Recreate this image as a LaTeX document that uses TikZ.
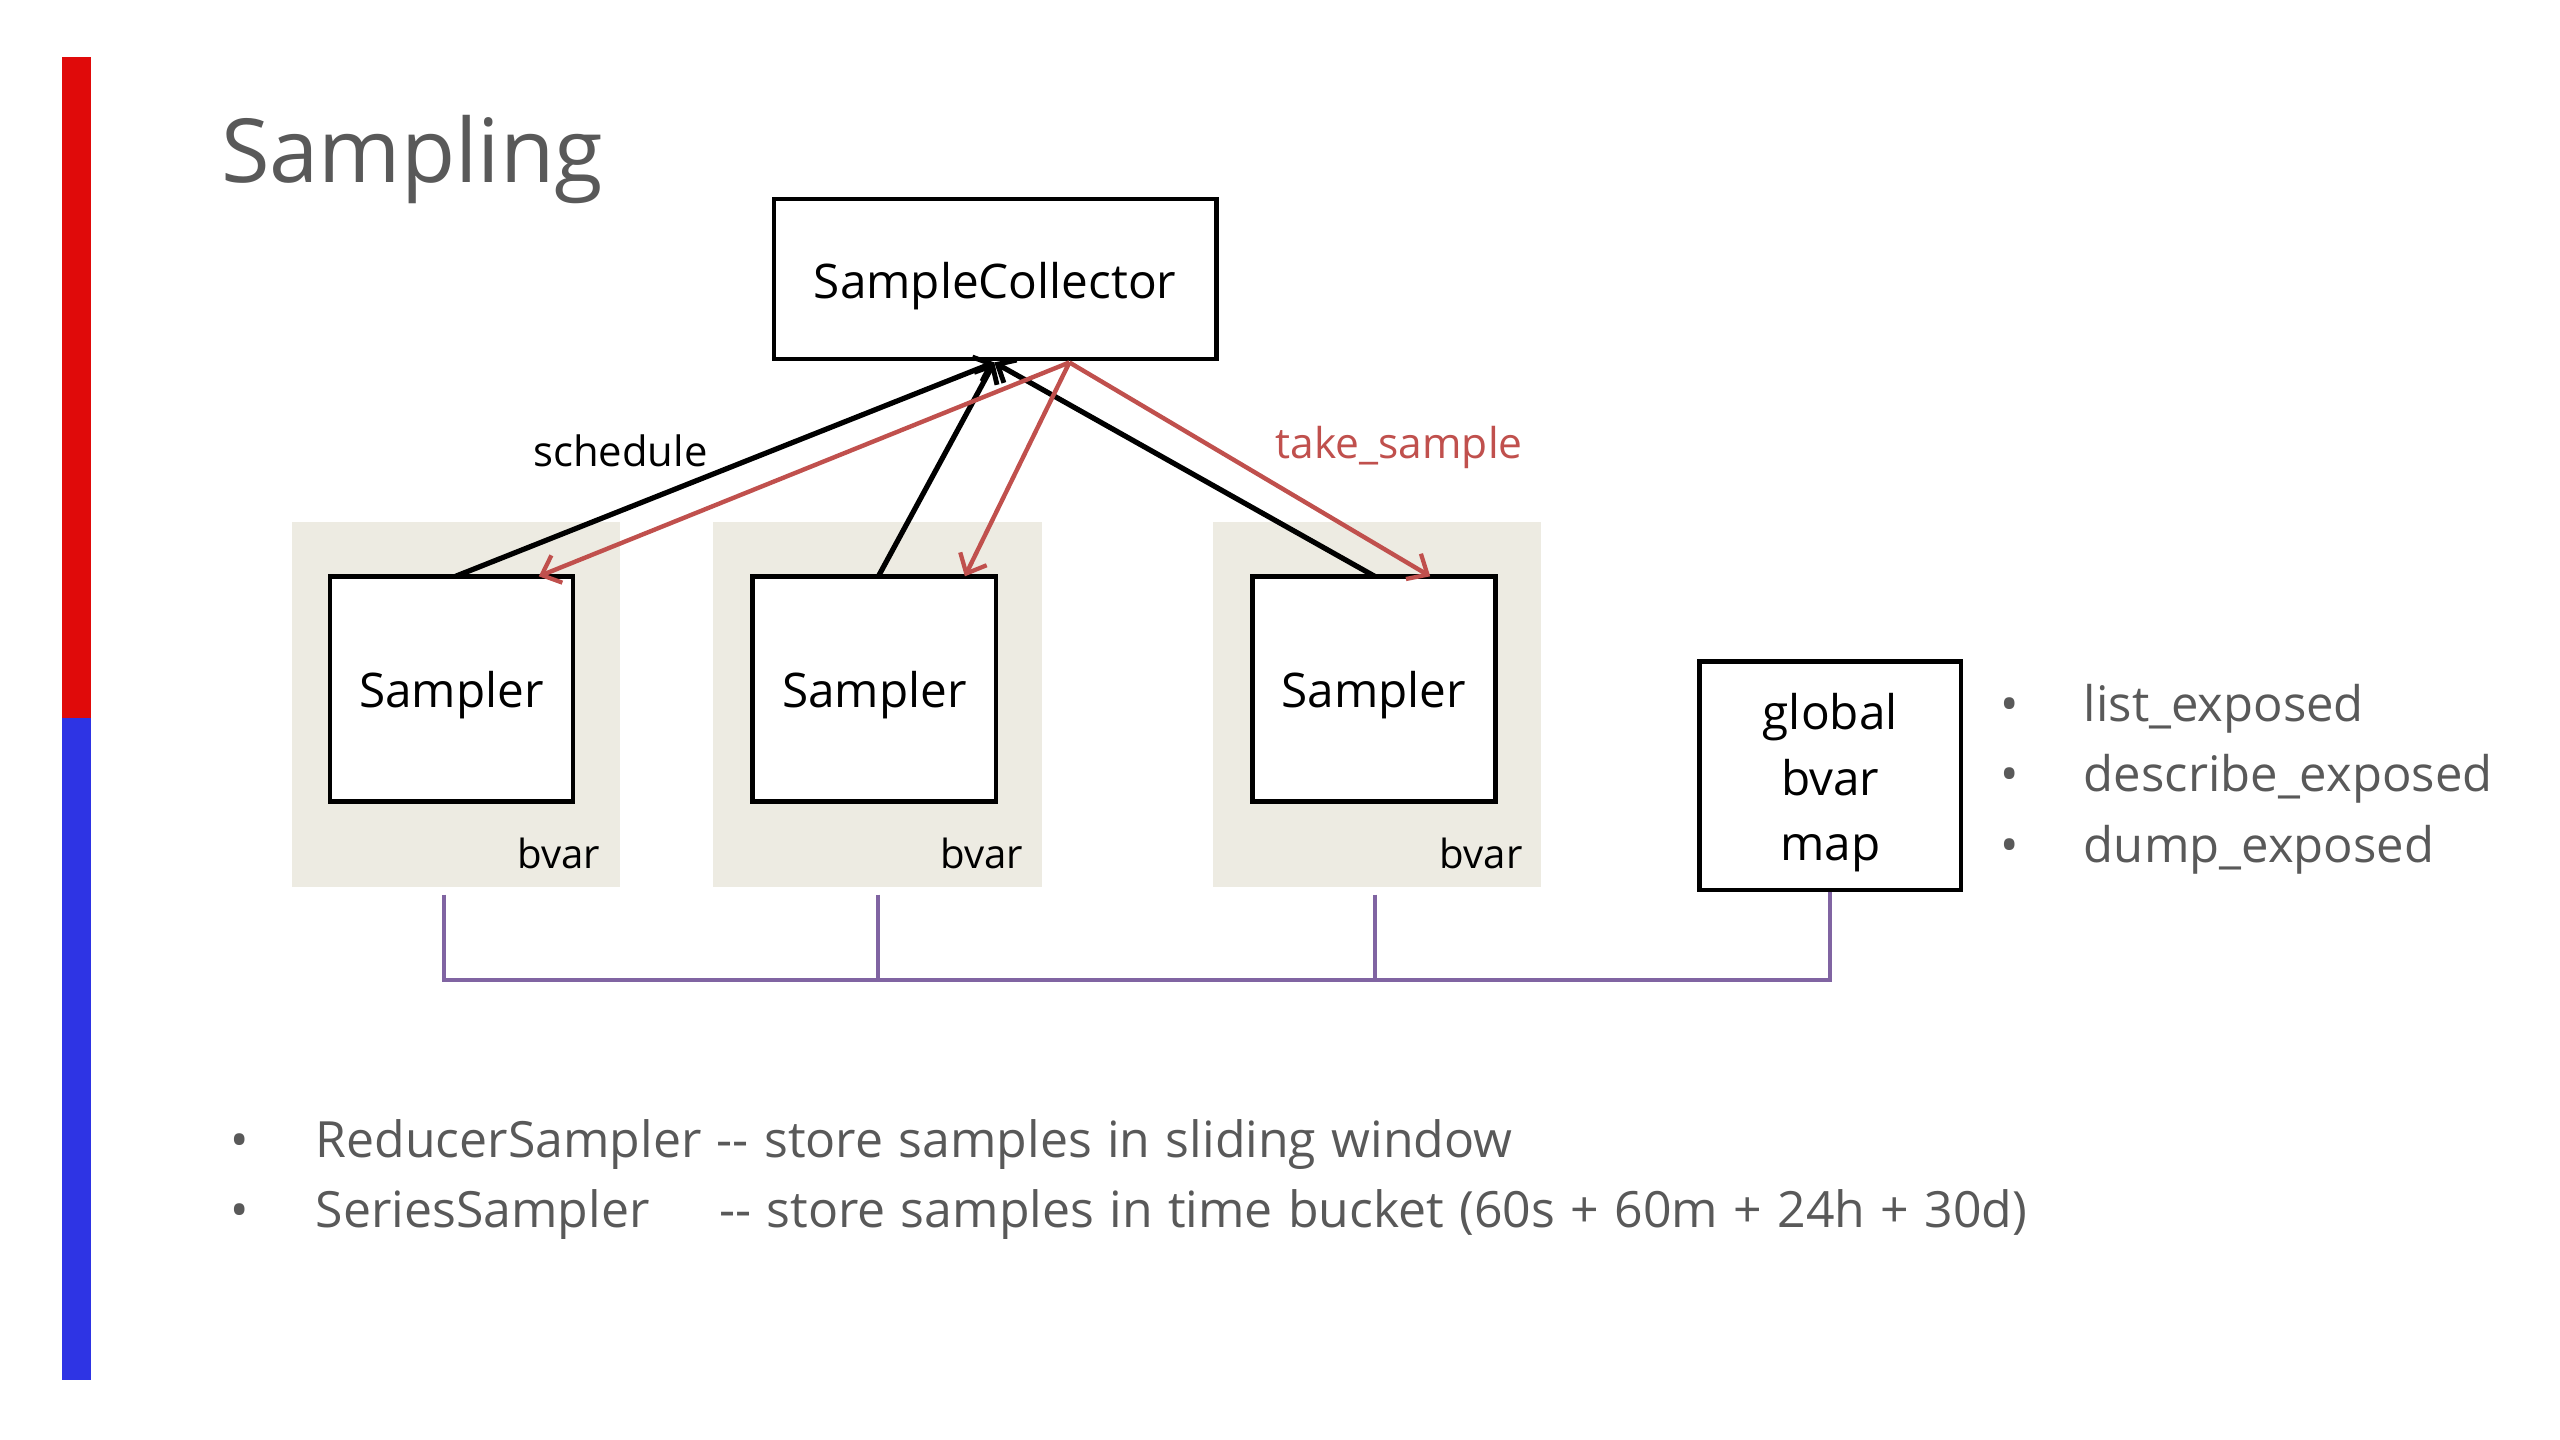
\documentclass[tikz,border=0pt]{standalone}
\usepackage{fontspec}
\setmainfont{Open Sans}
\usetikzlibrary{arrows.meta,calc}
\definecolor{txtgray}{HTML}{595959}
\definecolor{barred}{HTML}{E00A0A}
\definecolor{barblue}{HTML}{2E34E4}
\definecolor{bgtan}{HTML}{EDEBE2}
\definecolor{arrred}{HTML}{C0504D}
\definecolor{linepurple}{HTML}{8064A2}
\newcommand{\lowr}[1]{\raisebox{-2pt}[\height][\depth]{#1}}
\begin{document}
\begin{tikzpicture}[x=0.5pt,y=-0.5pt,
  box/.style={draw=black,line width=1.4pt,fill=white,inner sep=0pt,font=\fontsize{14.6}{17}\selectfont},
  samplerbox/.style={box,minimum width=74.5pt,minimum height=69pt},
  bgbox/.style={fill=bgtan,inner sep=0pt,minimum width=100.5pt,minimum height=111.5pt},
  bvarlbl/.style={anchor=base east,inner sep=0pt,font=\fontsize{12.3}{14}\selectfont},
  blackarr/.style={draw=black,line width=1.6pt,-{Straight Barb[length=4.5pt,width=8pt,line width=1.5pt]}},
  redarr/.style={draw=arrred,line width=1.35pt,-{Straight Barb[length=5pt,width=9pt,line width=1.3pt]}},
  purpleline/.style={draw=linepurple,line width=1.2pt},
  bullettxt/.style={anchor=base west,inner sep=0pt,text=txtgray,font={\fontsize{15.3}{18}\selectfont\spaceskip=4.7pt\relax}},
  listtxt/.style={anchor=base west,inner sep=0pt,text=txtgray,font=\fontsize{15}{18}\selectfont},
  bulletdot/.style={anchor=base,inner sep=0pt,text=txtgray,font=\fontsize{15}{18}\selectfont}
]
\useasboundingbox (0,0) rectangle (1568,881.4);
\fill[white] (0,0) rectangle (1568,881.4);
% side bars
\fill[barred] (38,35) rectangle (56,440);
\fill[barblue] (38,440) rectangle (56,845);
% title
\node[anchor=base west,inner sep=0pt,text=txtgray,font=\fontsize{27.1}{32}\selectfont] (title) at (135,112) {Sampling};
% background panels
\node[bgbox] (bg1) at (279.5,431.5) {};
\node[bgbox] (bg2) at (537.5,431.5) {};
\node[bgbox] (bg3) at (843.5,431.5) {};
% boxes
\node[box,minimum width=135.5pt,minimum height=49pt] (sc) at (609.5,171) {\lowr{SampleCollector}};
\node[samplerbox] (s1) at (276.5,422) {\lowr{Sampler}};
\node[samplerbox] (s2) at (535.5,422) {\lowr{Sampler}};
\node[samplerbox] (s3) at (841.5,422) {\lowr{Sampler}};
\node[box,minimum width=80pt,minimum height=70pt,font=\fontsize{14.6}{20}\selectfont] (gm) at (1121,475) {\lowr{\begin{tabular}{@{}c@{}}global\\bvar\\map\end{tabular}}};
% bvar labels
\node[bvarlbl] (b1) at (368,532) {bvar};
\node[bvarlbl] (b2) at (627,532) {bvar};
\node[bvarlbl] (b3) at (933,532) {bvar};
% arrow anchor points
\coordinate (tipB) at (609,222);
\coordinate (srcR) at (655,222);
\coordinate (s1b) at (279,353);
\coordinate (s2b) at (538,353);
\coordinate (s3b) at (842,353);
\coordinate (s1r) at (330,353);
\coordinate (s2r) at (591,353);
\coordinate (s3r) at (876,353);
% black schedule arrows
\draw[blackarr] (s1b) -- (tipB);
\draw[blackarr] (s2b) -- (tipB);
\draw[blackarr] (s3b) -- (tipB);
% red take_sample arrows
\draw[redarr] (srcR) -- (s1r);
\draw[redarr] (srcR) -- (s2r);
\draw[redarr] (srcR) -- (s3r);
% arrow labels
\node[inner sep=0pt,font=\fontsize{12.8}{15}\selectfont] (lsched) at (380,276) {schedule};
\node[inner sep=0pt,text=arrred,font=\fontsize{13}{15}\selectfont] (ltake) at (857,274) {take\_sample};
% purple connector
\coordinate (p1) at (272,548);
\coordinate (p2) at (538,548);
\coordinate (p3) at (842,548);
\draw[purpleline] (p1) -- (272,600) -- (1121,600) -- (gm.south);
\draw[purpleline] (p2) -- (538,600);
\draw[purpleline] (p3) -- (842,600);
% right bullets
\node[bulletdot] (rd1) at (1231,442) {•};
\node[bulletdot] (rd2) at (1231,485) {•};
\node[bulletdot] (rd3) at (1231,528) {•};
\node[listtxt] (r1) at (1276,442) {list\_exposed};
\node[listtxt] (r2) at (1276,485) {describe\_exposed};
\node[listtxt] (r3) at (1276,528) {dump\_exposed};
% bottom bullets
\node[bulletdot] (bd1) at (147,709) {•};
\node[bulletdot] (bd2) at (147,752) {•};
\node[bullettxt] (t1) at (193,709) {ReducerSampler -{}- store samples in sliding window};
\node[bullettxt] (t2a) at (193,752) {SeriesSampler};
\node[bullettxt] (t2b) at (440,752) {-{}- store samples in time bucket (60s + 60m + 24h + 30d)};
\end{tikzpicture}
\end{document}
